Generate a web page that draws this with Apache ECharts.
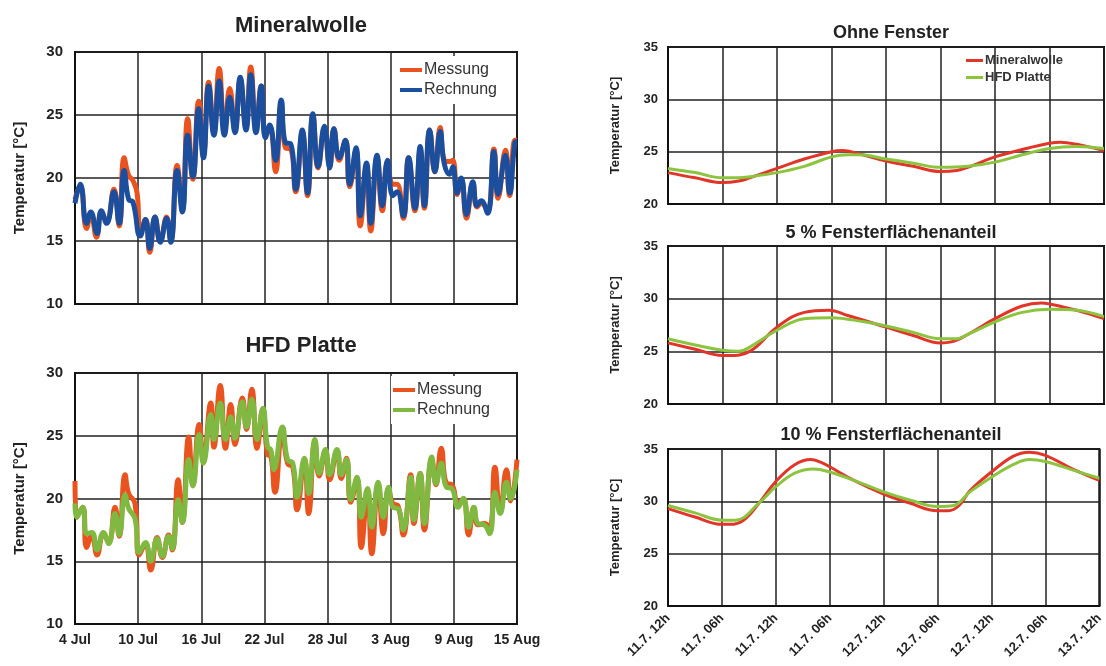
<!DOCTYPE html>
<html>
<head>
<meta charset="utf-8">
<script src="https://cdn.jsdelivr.net/npm/echarts@6/dist/echarts.min.js"></script>
<style>
  html, body { margin: 0; padding: 0; background: #fff; }
  #chart { width: 1106px; height: 666px; }
</style>
</head>
<body>
<div id="chart"></div>
<script>
// Tick labels
const dateLabels = ['4 Jul', '10 Jul', '16 Jul', '22 Jul', '28 Jul', '3 Aug', '9 Aug', '15 Aug'];
const timeLabels = ['11.7. 12h', '11.7. 06h', '11.7. 12h', '11.7. 06h', '12.7. 12h', '12.7. 06h', '12.7. 12h', '12.7. 06h', '13.7. 12h'];

// Mineralwolle: [day since 4 Jul, temperature °C]
const mwMessung = [[0,18.3],[0.5,19.4],[1.1,16.0],[1.5,17.1],[2.05,15.3],[2.5,17.3],[3.0,16.6],[3.7,19.1],[4.2,16.2],[4.67,21.6],[5.1,20.2],[5.5,19.8],[5.9,18.8],[6.2,15.6],[6.7,16.7],[7.1,14.1],[7.6,16.9],[8.1,15.0],[8.7,16.9],[9.1,15.1],[9.7,21.0],[10.2,17.5],[10.7,24.7],[11.2,19.9],[11.75,26.1],[12.2,21.9],[12.7,27.6],[13.2,23.6],[13.7,28.7],[14.2,23.8],[14.7,27.1],[15.2,23.8],[15.7,27.8],[16.25,24.0],[16.7,28.8],[17.2,24.0],[17.7,27.3],[18.1,23.4],[18.5,24.0],[19.06,20.5],[19.6,25.9],[20.0,22.4],[20.5,22.3],[20.97,18.9],[21.6,23.6],[22.1,18.6],[22.6,25.0],[23.1,20.8],[23.7,24.0],[24.2,21.0],[24.6,23.9],[25.1,21.4],[25.7,23.0],[26.1,19.3],[26.7,22.2],[27.1,16.2],[27.7,21.0],[28.1,15.8],[28.7,21.6],[29.2,17.4],[29.7,21.3],[30.2,19.5],[30.6,19.5],[31.2,16.8],[31.7,21.6],[32.3,17.4],[32.8,22.2],[33.2,17.6],[33.7,23.8],[34.2,20.5],[34.7,24.0],[35.1,21.4],[35.6,21.3],[35.9,21.4],[36.3,18.7],[36.7,19.9],[37.2,16.8],[37.8,19.6],[38.2,17.7],[38.6,18.0],[39.2,17.4],[39.8,22.3],[40.2,18.4],[40.9,22.2],[41.3,18.6],[41.8,23.0],[42,23.0]];
const mwRechnung = [[0,18.0],[0.5,19.5],[1.1,16.4],[1.5,17.3],[2.1,15.6],[2.5,17.4],[3.0,16.4],[3.7,18.9],[4.2,16.4],[4.67,20.6],[5.1,18.3],[5.5,18.1],[6.2,15.4],[6.7,16.7],[7.1,14.4],[7.6,16.9],[8.1,14.9],[8.7,16.8],[9.1,14.9],[9.7,20.6],[10.2,17.3],[10.7,23.4],[11.2,20.1],[11.75,25.5],[12.2,21.6],[12.7,27.3],[13.2,23.4],[13.7,27.7],[14.2,23.4],[14.7,26.4],[15.2,23.6],[15.7,28.0],[16.25,23.8],[16.7,28.2],[17.2,23.6],[17.7,27.3],[18.1,23.2],[18.5,24.2],[19.06,21.4],[19.6,26.2],[20.0,22.8],[20.5,22.7],[20.97,19.1],[21.6,23.8],[22.1,18.8],[22.6,25.1],[23.1,20.9],[23.7,24.1],[24.2,20.8],[24.6,23.9],[25.1,21.6],[25.7,23.0],[26.1,19.5],[26.7,22.4],[27.1,17.0],[27.7,21.2],[28.1,16.4],[28.7,21.8],[29.2,17.8],[29.7,21.4],[30.2,18.6],[30.6,18.9],[31.2,17.0],[31.7,21.6],[32.3,17.6],[32.8,22.5],[33.2,17.8],[33.7,23.8],[34.2,20.5],[34.7,23.7],[35.1,21.1],[35.6,20.3],[35.9,20.9],[36.3,18.8],[36.7,20.0],[37.2,17.1],[37.8,19.7],[38.2,17.8],[38.6,18.2],[39.2,17.2],[39.8,22.1],[40.2,18.7],[40.9,21.8],[41.3,18.8],[41.8,22.8],[42,22.9]];

// HFD Platte: [day since 4 Jul, temperature °C]
const hfdMessung = [[0,21.4],[0.16,18.5],[0.73,19.3],[1.1,16.1],[1.6,17.1],[2.1,15.5],[2.7,17.2],[3.2,16.5],[3.8,19.3],[4.2,17.0],[4.76,21.9],[5.1,20.4],[5.7,19.6],[6.1,15.5],[6.7,16.4],[7.2,14.3],[7.8,16.9],[8.3,15.3],[8.9,17.1],[9.25,15.9],[9.8,21.5],[10.2,18.1],[10.8,24.9],[11.2,21.1],[11.8,25.9],[12.2,23.1],[12.9,27.6],[13.2,24.1],[13.8,29.0],[14.3,24.0],[14.8,27.5],[15.2,24.3],[15.9,28.0],[16.3,25.5],[16.8,28.7],[17.3,24.0],[17.85,27.1],[18.3,23.5],[18.6,23.4],[19.0,20.5],[19.7,25.4],[20.2,22.8],[20.7,22.5],[21.1,19.1],[21.8,23.1],[22.2,18.8],[22.8,24.5],[23.2,21.8],[23.8,23.8],[24.2,21.5],[24.9,23.8],[25.3,21.6],[25.8,23.2],[26.2,19.7],[26.8,21.5],[27.2,16.1],[27.8,20.6],[28.2,15.6],[28.8,21.1],[29.3,17.2],[29.8,20.8],[30.2,19.6],[30.7,19.4],[31.2,17.1],[31.9,21.9],[32.2,18.0],[32.8,22.0],[33.2,17.5],[33.9,23.1],[34.3,21.1],[34.8,24.0],[35.3,21.2],[35.8,21.1],[36.4,19.6],[36.9,20.0],[37.4,17.1],[37.9,19.2],[38.3,17.9],[38.9,18.0],[39.4,17.7],[39.9,22.5],[40.4,18.9],[41.0,22.3],[41.4,19.8],[42,23.1]];
const hfdRechnung = [[0,19.6],[0.16,18.5],[0.73,19.3],[1.1,17.2],[1.6,17.3],[2.1,15.9],[2.7,17.3],[3.2,16.4],[3.8,18.8],[4.2,17.1],[4.76,20.3],[5.1,19.2],[5.7,18.4],[6.1,15.7],[6.7,16.5],[7.2,15.0],[7.8,16.8],[8.3,15.4],[8.9,17.0],[9.25,16.0],[9.8,19.9],[10.2,18.1],[10.8,23.1],[11.2,21.0],[11.8,25.1],[12.2,22.8],[12.9,26.7],[13.2,24.7],[13.8,27.6],[14.3,24.7],[14.8,26.5],[15.2,24.8],[15.9,27.7],[16.3,25.7],[16.8,27.9],[17.3,24.7],[17.85,27.2],[18.3,24.1],[18.6,23.9],[18.9,22.3],[19.7,25.7],[20.2,23.1],[20.7,22.8],[21.1,20.1],[21.8,23.2],[22.2,20.4],[22.8,24.7],[23.2,22.0],[23.8,23.9],[24.2,21.9],[24.9,23.9],[25.3,21.9],[25.8,23.1],[26.2,19.9],[26.8,21.7],[27.2,18.5],[27.8,20.8],[28.2,17.7],[28.8,21.3],[29.3,18.5],[29.8,20.9],[30.2,19.3],[30.7,19.2],[31.2,17.5],[31.9,21.7],[32.2,18.3],[32.8,22.0],[33.2,18.0],[33.9,23.3],[34.3,21.2],[34.8,22.8],[35.3,20.9],[35.8,20.8],[36.4,19.3],[36.9,20.0],[37.4,17.7],[37.9,19.3],[38.3,18.0],[38.9,17.9],[39.4,17.2],[39.9,20.5],[40.4,18.8],[41.0,21.3],[41.4,20.0],[42,22.3]];

// Window share comparison: [tick index, temperature °C]
const ohneMW  = [[0,23.0],[0.5,22.5],[1,22.05],[1.3,22.2],[1.5,22.5],[2,23.4],[2.5,24.3],[3,25.0],[3.2,25.1],[3.5,24.8],[4,24.1],[4.5,23.6],[5,23.1],[5.3,23.2],[5.5,23.5],[6,24.5],[6.5,25.2],[7,25.8],[7.2,25.9],[7.5,25.7],[8,25.1]];
const ohneHFD = [[0,23.4],[0.5,23.0],[1,22.5],[1.3,22.5],[1.5,22.6],[2,23.0],[2.5,23.6],[3,24.5],[3.3,24.7],[3.5,24.7],[4,24.3],[4.5,23.9],[5,23.5],[5.5,23.6],[6,24.0],[6.5,24.7],[7,25.3],[7.5,25.5],[8,25.3]];
const f5MW  = [[0,25.8],[0.5,25.2],[1,24.6],[1.1,24.6],[1.5,25.0],[2,27.3],[2.5,28.7],[2.95,28.9],[3.3,28.4],[4,27.3],[4.5,26.5],[5,25.8],[5.2,25.9],[5.5,26.6],[6,28.1],[6.5,29.3],[6.85,29.6],[7,29.5],[7.5,28.9],[8,28.1]];
const f5HFD = [[0,26.2],[0.5,25.6],[1,25.1],[1.3,25.0],[1.5,25.4],[2,27.0],[2.5,28.1],[3,28.2],[3.6,27.8],[4,27.4],[4.5,26.8],[5,26.2],[5.3,26.2],[5.5,26.6],[6,27.8],[6.5,28.7],[7,29.0],[7.5,28.9],[8,28.3]];
const f10MW  = [[0,29.3],[0.5,28.5],[1,27.8],[1.15,27.8],[1.4,28.2],[1.7,29.9],[2,31.9],[2.35,33.5],[2.65,34.0],[2.85,33.7],[3,33.3],[3.45,32.0],[4,30.7],[4.5,29.8],[5,29.1],[5.2,29.1],[5.4,29.6],[5.6,31.0],[6,32.8],[6.4,34.3],[6.7,34.7],[7,34.4],[7.5,33.1],[8,32.0]];
const f10HFD = [[0,29.6],[0.5,28.9],[1,28.2],[1.25,28.2],[1.7,29.9],[2,31.4],[2.35,32.7],[2.7,33.1],[3,32.8],[3.45,32.0],[4,30.9],[4.5,30.1],[5,29.5],[5.3,29.6],[5.6,30.9],[6,32.3],[6.4,33.5],[6.7,34.0],[7,33.8],[7.5,33.0],[8,32.2]];

const ORANGE = '#e9531f';
const BLUE = '#1b4f9e';
const GREEN_L = '#80b941';
const RED_R = '#e2352a';
const GREEN_R = '#8cc43f';
const FONT = 'Liberation Sans, Arial, sans-serif';

const leftGrids = [
  { left: 75, top: 52, width: 442, height: 252 },
  { left: 75, top: 373, width: 442, height: 251 }
];
const rightGrids = [
  { left: 668, top: 47, width: 436, height: 157 },
  { left: 668, top: 246, width: 436, height: 158 },
  { left: 668, top: 449, width: 436, height: 157 }
];

const frame = { show: true, borderColor: '#111', borderWidth: 2, backgroundColor: '#fff' };
const gridLine = { show: true, lineStyle: { color: '#222', width: 1.5 } };

const grids = leftGrids.concat(rightGrids).map(g => Object.assign({}, g, frame));

const xAxes = [];
const yAxes = [];
[0, 1].forEach(i => {
  xAxes.push({
    type: 'value', gridIndex: i, min: 0, max: 42, interval: 6,
    axisLine: { show: true, lineStyle: { color: '#111', width: 2 } },
    axisTick: { show: false },
    splitLine: gridLine,
    axisLabel: {
      show: i === 1, margin: 9, color: '#222', fontSize: 14, fontWeight: 'bold', fontFamily: FONT,
      formatter: v => dateLabels[Math.round(v / 6)]
    }
  });
  yAxes.push({
    type: 'value', gridIndex: i, min: 10, max: 30, interval: 5,
    name: 'Temperatur [°C]', nameLocation: 'middle', nameGap: 48,
    nameTextStyle: { color: '#222', fontSize: 15, fontWeight: 'bold', fontFamily: FONT },
    axisLine: { show: true, lineStyle: { color: '#111', width: 2 } },
    axisTick: { show: false },
    splitLine: gridLine,
    axisLabel: { margin: 12, color: '#222', fontSize: 15, fontWeight: 'bold', fontFamily: FONT }
  });
});
[2, 3, 4].forEach(i => {
  xAxes.push({
    type: 'value', gridIndex: i, min: 0, max: 8, interval: 1,
    axisLine: { show: true, lineStyle: { color: '#111', width: 2 } },
    axisTick: { show: false },
    splitLine: gridLine,
    axisLabel: {
      show: i === 4, rotate: 45, margin: 10, color: '#222', fontSize: 13, fontWeight: 'bold', fontFamily: FONT,
      formatter: v => timeLabels[Math.round(v)]
    }
  });
  yAxes.push({
    type: 'value', gridIndex: i, min: 20, max: 35, interval: 5,
    name: 'Temperatur [°C]', nameLocation: 'middle', nameGap: 46,
    nameTextStyle: { color: '#222', fontSize: 13, fontWeight: 'bold', fontFamily: FONT },
    axisLine: { show: true, lineStyle: { color: '#111', width: 2 } },
    axisTick: { show: false },
    splitLine: gridLine,
    axisLabel: { margin: 10, color: '#222', fontSize: 13, fontWeight: 'bold', fontFamily: FONT }
  });
});

function line(name, data, idx, color, width, smooth) {
  return {
    type: 'line', name: name, data: data, xAxisIndex: idx, yAxisIndex: idx,
    smooth: smooth, symbol: 'none', color: color,
    lineStyle: { color: color, width: width }, itemStyle: { color: color },
    animation: false, z: 3
  };
}

const series = [
  line('Messung', mwMessung, 0, ORANGE, 5, 0.5),
  line('Rechnung', mwRechnung, 0, BLUE, 5, 0.5),
  line('Messung', hfdMessung, 1, ORANGE, 5, 0.5),
  line('Rechnung', hfdRechnung, 1, GREEN_L, 5, 0.5),
  line('Mineralwolle', ohneMW, 2, RED_R, 3, 0.4),
  line('HFD Platte', ohneHFD, 2, GREEN_R, 3, 0.4),
  line('Mineralwolle', f5MW, 3, RED_R, 3, 0.4),
  line('HFD Platte', f5HFD, 3, GREEN_R, 3, 0.4),
  line('Mineralwolle', f10MW, 4, RED_R, 3, 0.4),
  line('HFD Platte', f10HFD, 4, GREEN_R, 3, 0.4)
];

function title(text, x, y, size) {
  return {
    text: text, left: x, top: y, textAlign: 'center',
    textStyle: { color: '#222', fontSize: size, fontWeight: 'bold', fontFamily: FONT }
  };
}

function legend(items, x, y, size, bold, bg) {
  return {
    orient: 'vertical', left: x, top: y, icon: 'rect',
    itemWidth: bold ? 17 : 22, itemHeight: bold ? 3 : 4, itemGap: bold ? 4 : 4,
    backgroundColor: bg ? '#fff' : 'transparent',
    padding: bg ? [6, 6, 6, 2] : [2, 2, 2, 2],
    selectedMode: false,
    textStyle: { color: '#333', fontSize: size, fontWeight: bold ? 'bold' : 'normal', fontFamily: FONT, padding: [0, 0, 0, -3] },
    data: items.map(it => ({ name: it[0], itemStyle: { color: it[1] } }))
  };
}

const option = {
  animation: false,
  backgroundColor: '#fff',
  title: [
    title('Mineralwolle', 296, 10, 22),
    title('HFD Platte', 296, 330, 22),
    title('Ohne Fenster', 886, 19, 18),
    title('5 % Fensterflächenanteil', 886, 219, 18),
    title('10 % Fensterflächenanteil', 886, 421, 18)
  ],
  legend: [
    legend([['Messung', ORANGE], ['Rechnung', BLUE]], 398, 56, 16, false, true),
    legend([['Messung', ORANGE], ['Rechnung', GREEN_L]], 391, 376, 16, false, true),
    legend([['Mineralwolle', RED_R], ['HFD Platte', GREEN_R]], 964, 52, 13, true, false)
  ],
  grid: grids,
  xAxis: xAxes,
  yAxis: yAxes,
  series: series
};

const chart = echarts.init(document.getElementById('chart'), null, { renderer: 'canvas' });
chart.setOption(option);
</script>
</body>
</html>
